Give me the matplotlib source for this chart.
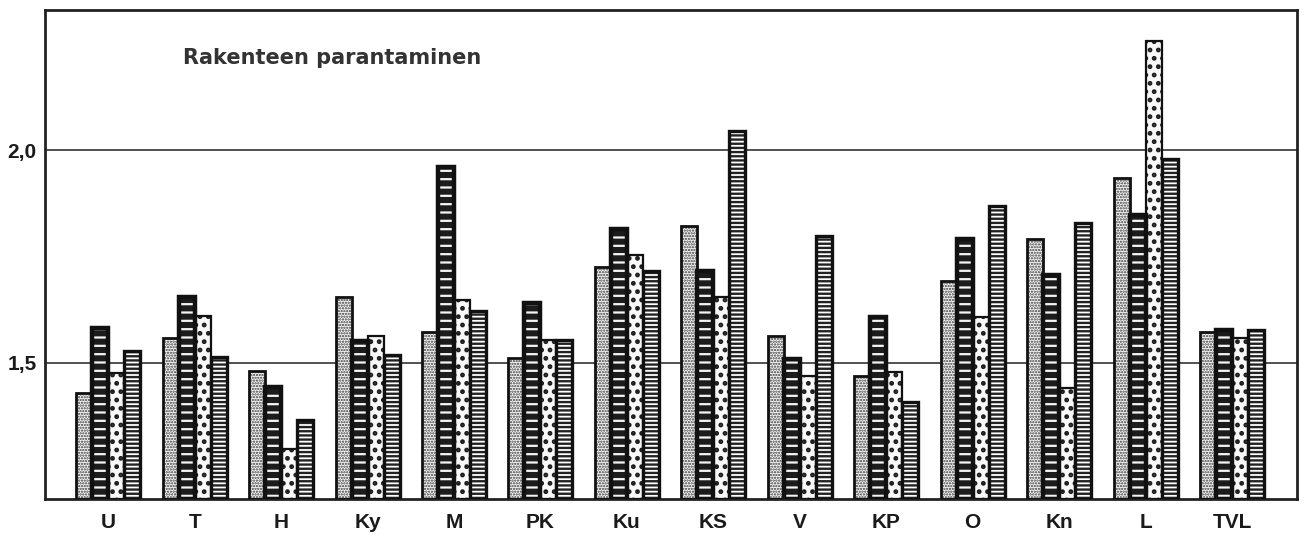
import matplotlib.pyplot as plt
import numpy as np

plt.rcParams['font.family'] = ['Liberation Sans', 'DejaVu Sans']

# areas along the x axis
areas = ['U', 'T', 'H', 'Ky', 'M', 'PK', 'Ku', 'KS', 'V', 'KP', 'O', 'Kn', 'L', 'TVL']

# four series per area, left to right inside each group
s1 = [1.430, 1.559, 1.482, 1.656, 1.573, 1.512, 1.726, 1.823, 1.564, 1.470, 1.693, 1.791, 1.936, 1.573]
s2 = [1.582, 1.656, 1.444, 1.551, 1.961, 1.641, 1.816, 1.716, 1.509, 1.608, 1.791, 1.707, 1.847, 1.577]
s3 = [1.477, 1.611, 1.297, 1.564, 1.648, 1.555, 1.753, 1.656, 1.470, 1.478, 1.607, 1.440, 2.257, 1.559]
s4 = [1.528, 1.514, 1.367, 1.519, 1.623, 1.555, 1.716, 2.046, 1.798, 1.409, 1.869, 1.830, 1.979, 1.577]

yticks = [1.5, 2.0]
yticklabels = ['1,5', '2,0']

fig = plt.figure(figsize=(13.1, 5.42), dpi=100)
ax = fig.add_axes([0.0344, 0.0793, 0.9556, 0.9022])

x = np.arange(len(areas))
w = 0.185
base = 1.18

def outline(xs, vals, lw=2.0):
    ax.bar(xs, np.array(vals) - base, w, bottom=base, fill=False,
           edgecolor='#111111', linewidth=lw, zorder=4)

# fine dots
plt.rcParams['hatch.linewidth'] = 1.1
ax.bar(x - 1.5 * w, np.array(s1) - base, w, bottom=base, color='#f6f6f6',
       edgecolor='#3a3a3a', hatch='......', linewidth=0, zorder=2)
outline(x - 1.5 * w, s1)

# black with white dashes
plt.rcParams['hatch.linewidth'] = 1.6
ax.bar(x - 0.5 * w, np.array(s2) - base, w, bottom=base, facecolor='#1c1c1c',
       edgecolor='#f4f4f4', hatch='--', linewidth=0, zorder=2)
outline(x - 0.5 * w, s2, lw=3.2)

# large sparse dots
plt.rcParams['hatch.linewidth'] = 2.2
ax.bar(x + 0.5 * w, np.array(s3) - base, w, bottom=base, color='#f8f8f8',
       edgecolor='#1a1a1a', hatch='..', linewidth=0, zorder=2)
outline(x + 0.5 * w, s3, lw=1.6)

# dense thin stripes
plt.rcParams['hatch.linewidth'] = 1.7
ax.bar(x + 1.5 * w, np.array(s4) - base, w, bottom=base, color='white',
       edgecolor='#222222', hatch='----', linewidth=0, zorder=2)
outline(x + 1.5 * w, s4, lw=2.4)

for yv in yticks:
    ax.axhline(yv, color='#333333', linewidth=1.2, zorder=1)

ax.set_xlim(-0.73, len(areas) - 1 + 0.75)
ax.set_ylim(base, 2.33)

ax.set_xticks(x)
ax.set_xticklabels(areas, fontsize=15, fontweight='bold', color='#1a1a1a')
ax.set_yticks(yticks)
ax.set_yticklabels(yticklabels, fontsize=15, fontweight='bold', color='#1a1a1a')
ax.tick_params(axis='both', length=0)
ax.tick_params(axis='x', pad=10)
ax.tick_params(axis='y', pad=6)

for sp in ax.spines.values():
    sp.set_linewidth(2.0)
    sp.set_color('#222222')

ax.text(0.110, 0.902, 'Rakenteen parantaminen', transform=ax.transAxes,
        fontsize=15, fontweight='bold', family=['DejaVu Sans'], color='#333333',
        va='center', ha='left')

fig.savefig('out.png', dpi=100)
